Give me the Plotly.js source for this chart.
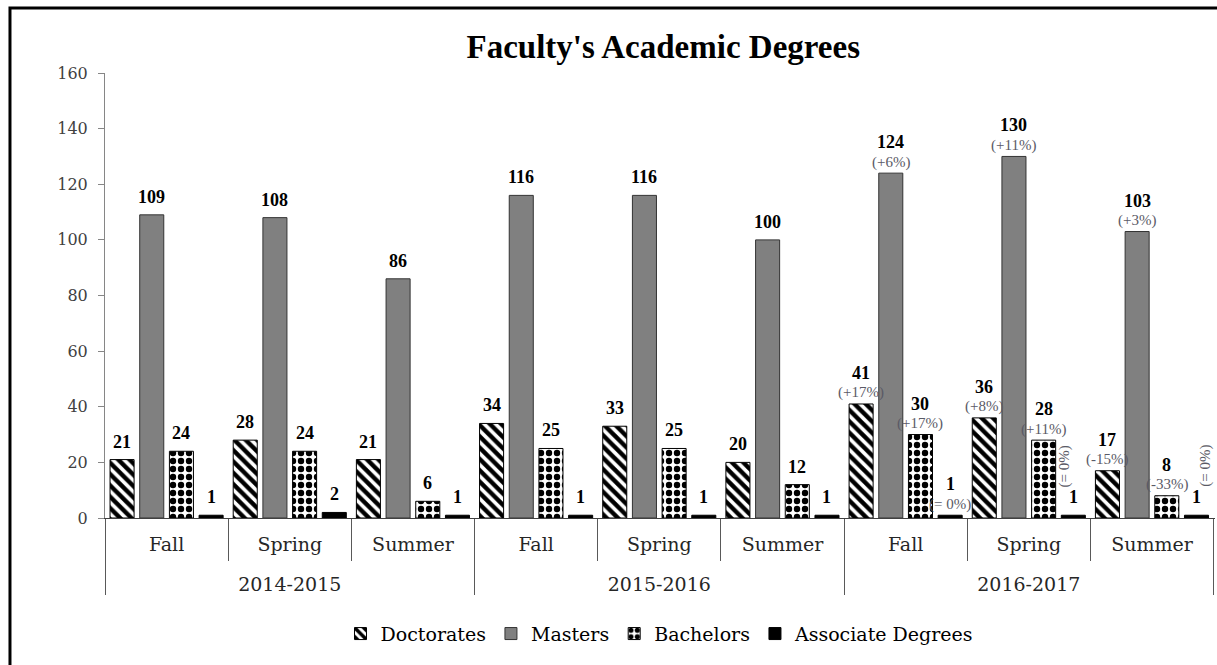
<!DOCTYPE html>
<html>
<head>
<meta charset="utf-8">
<script src="https://cdn.plot.ly/plotly-3.0.1.min.js"></script>
<style>
  html, body { margin: 0; padding: 0; background: #ffffff; }
  #chart { width: 1217px; height: 665px; }
</style>
</head>
<body>
<div id="chart"></div>
<script>
// ---- data ----
const years = ['2014-2015','2014-2015','2014-2015','2015-2016','2015-2016','2015-2016','2016-2017','2016-2017','2016-2017'];
const semesters = ['Fall','Spring','Summer','Fall','Spring','Summer','Fall','Spring','Summer'];

const doctorates = [21, 28, 21, 34, 33, 20, 41, 36, 17];
const masters    = [109, 108, 86, 116, 116, 100, 124, 130, 103];
const bachelors  = [24, 24, 6, 25, 25, 12, 30, 28, 8];
const associate  = [1, 2, 1, 1, 1, 1, 1, 1, 1];

const doctoratesPct = ['', '', '', '', '', '', '(+17%)', '(+8%)', '(-15%)'];
const mastersPct    = ['', '', '', '', '', '', '(+6%)', '(+11%)', '(+3%)'];
const bachelorsPct  = ['', '', '', '', '', '', '(+17%)', '(+11%)', '(-33%)'];
const associatePct  = ['', '', '', '', '', '', '(= 0%)', '(= 0%)', '(= 0%)'];
const associatePctRotated = [false, false, false, false, false, false, false, true, true];

const seriesNames = ['Doctorates', 'Masters', 'Bachelors', 'Associate Degrees'];

// ---- style ----
const FONT = 'Liberation Serif';
const TFONT = 'DejaVu Serif';
const BARGAP = 0.036;
const BARGROUPGAP = 0.19;

// inner labels get an extra (empty) line so the outer row sits lower, as in the reference
const semesterLabels = semesters.map(s => s + '<br> ');
const x = [years, semesterLabels];

const traces = [
  {
    type: 'bar', name: seriesNames[0], x: x, y: doctorates,
    marker: { color: '#ffffff', line: { color: '#000000', width: 1 },
      pattern: { shape: '\\', fgcolor: '#000000', bgcolor: '#ffffff', size: 8, solidity: 0.55 } }
  },
  {
    type: 'bar', name: seriesNames[1], x: x, y: masters,
    marker: { color: '#808080', line: { color: '#333333', width: 1 } }
  },
  {
    type: 'bar', name: seriesNames[2], x: x, y: bachelors,
    marker: { color: '#ffffff', line: { color: '#000000', width: 1 },
      pattern: { shape: '.', fgcolor: '#000000', bgcolor: '#ffffff', size: 8, solidity: 0.5 } }
  },
  {
    type: 'bar', name: seriesNames[3], x: x, y: associate,
    marker: { color: '#000000', line: { color: '#000000', width: 1 } }
  }
];
traces.forEach(t => { t.hoverinfo = 'none'; });

// ---- labels (positions derived from the grouped-bar layout offsets) ----
const values = [doctorates, masters, bachelors, associate];
const pcts = [doctoratesPct, mastersPct, bachelorsPct, associatePct];
const nT = values.length;
const slot = (1 - BARGAP) / nT;
const annotations = [];
for (let i = 0; i < nT; i++) {
  const off = -(1 - BARGAP) / 2 + slot * (i + 0.5);
  for (let j = 0; j < values[i].length; j++) {
    const v = values[i][j];
    const p = pcts[i][j];
    const rot = (i === nT - 1) && associatePctRotated[j];
    const hasFlatPct = p !== '' && !rot;
    annotations.push({
      x: j + off, y: v, xref: 'x', yref: 'y',
      text: '<b>' + v + '</b>', showarrow: false, borderpad: 0,
      yanchor: 'middle', yshift: hasFlatPct ? 31 : 18,
      font: { family: FONT, size: 18, color: '#000000' }
    });
    if (p !== '') {
      annotations.push({
        x: j + off, y: v, xref: 'x', yref: 'y',
        text: p, showarrow: false, borderpad: 0, textangle: rot ? -90 : 0,
        yanchor: 'middle', yshift: rot ? 49 : 11, xshift: rot ? (j === 7 ? -9 : 9) : 0,
        font: { family: FONT, size: 15, color: '#5a5a66' }
      });
    }
  }
}

const layout = {
  width: 1217, height: 665,
  font: { family: TFONT, color: '#000000' },
  margin: { l: 105, r: 2, t: 73, b: 147 },
  paper_bgcolor: '#ffffff', plot_bgcolor: '#ffffff',
  barmode: 'group', bargap: BARGAP, bargroupgap: BARGROUPGAP,
  title: {
    text: "<b>Faculty's Academic Degrees</b>",
    font: { family: FONT, size: 33, color: '#000000' },
    x: 0.545, xanchor: 'center', y: 0.93, yanchor: 'middle', yref: 'container'
  },
  xaxis: {
    type: 'multicategory',
    showline: true, linecolor: '#404040', linewidth: 1,
    ticks: 'outside', tickson: 'boundaries', ticklen: 42, tickcolor: '#595959', tickwidth: 1,
    ticklabelstandoff: 9,
    showdividers: true, dividercolor: '#595959', dividerwidth: 1,
    tickfont: { family: TFONT, size: 19, color: '#262626' },
    showgrid: false, zeroline: false, fixedrange: true
  },
  yaxis: {
    range: [0, 160], dtick: 20, tick0: 0,
    showline: true, linecolor: '#868686', linewidth: 1,
    ticks: 'outside', ticklen: 6, tickcolor: '#868686',
    ticklabelstandoff: 7,
    tickfont: { family: TFONT, size: 16, color: '#404040' },
    showgrid: false, zeroline: false, fixedrange: true
  },
  legend: {
    orientation: 'h', x: 0.5, xanchor: 'center', y: -0.26, yanchor: 'middle',
    font: { family: TFONT, size: 19, color: '#000000' },
    itemwidth: 30, traceorder: 'normal'
  },
  annotations: annotations,
  shapes: [{
    type: 'rect', xref: 'paper', yref: 'paper', layer: 'above',
    x0: -0.0856, x1: 1.2, y0: -0.6, y1: 1.146,
    line: { color: '#000000', width: 3 }, fillcolor: 'rgba(0,0,0,0)'
  }]
};

Plotly.newPlot('chart', traces, layout, { displayModeBar: false, staticPlot: true });
</script>
</body>
</html>
